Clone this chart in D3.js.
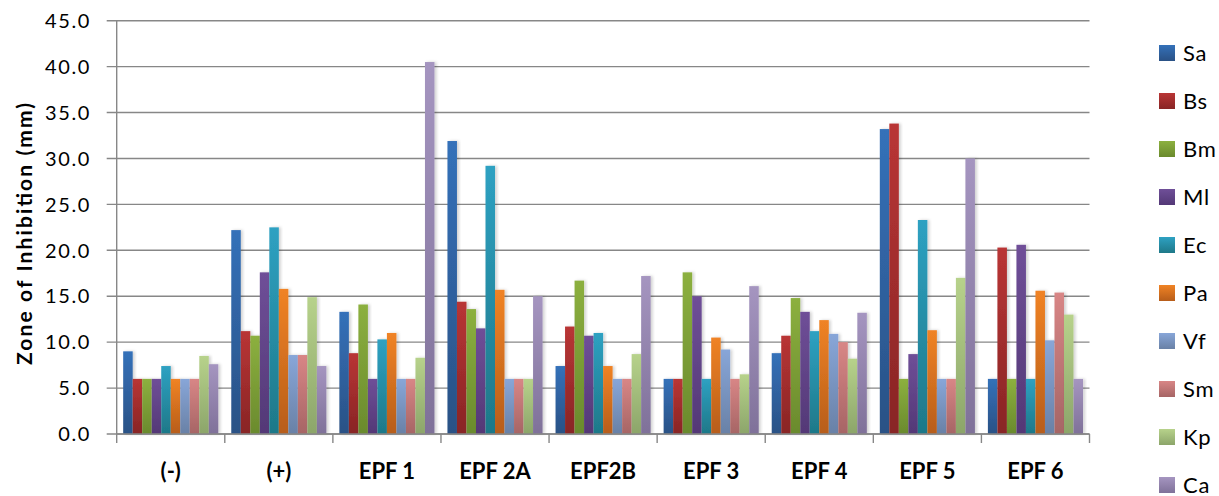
<!DOCTYPE html>
<html>
<head>
<meta charset="utf-8">
<script src="https://cdn.jsdelivr.net/npm/d3@7/dist/d3.min.js"></script>
<style>
  html, body { margin: 0; padding: 0; background: #fff; }
  svg { display: block; font-family: Lato, "Liberation Sans", sans-serif; }
</style>
</head>
<body>
<div id="chart"></div>
<script>
const categories = ["(-)", "(+)", "EPF 1", "EPF 2A", "EPF2B", "EPF 3", "EPF 4", "EPF 5", "EPF 6"];
const series = ["Sa", "Bs", "Bm", "Ml", "Ec", "Pa", "Vf", "Sm", "Kp", "Ca"];
// one array per series, values in category order
const Sa = [9.0, 22.2, 13.3, 31.9, 7.4, 6.0, 8.8, 33.2, 6.0];
const Bs = [6.0, 11.2, 8.8, 14.4, 11.7, 6.0, 10.7, 33.8, 20.3];
const Bm = [6.0, 10.7, 14.1, 13.6, 16.7, 17.6, 14.8, 6.0, 6.0];
const Ml = [6.0, 17.6, 6.0, 11.5, 10.7, 15.0, 13.3, 8.7, 20.6];
const Ec = [7.4, 22.5, 10.3, 29.2, 11.0, 6.0, 11.2, 23.3, 6.0];
const Pa = [6.0, 15.8, 11.0, 15.7, 7.4, 10.5, 12.4, 11.3, 15.6];
const Vf = [6.0, 8.6, 6.0, 6.0, 6.0, 9.2, 10.9, 6.0, 10.2];
const Sm = [6.0, 8.6, 6.0, 6.0, 6.0, 6.0, 10.0, 6.0, 15.4];
const Kp = [8.5, 14.9, 8.3, 6.0, 8.7, 6.5, 8.2, 17.0, 13.0];
const Ca = [7.6, 7.4, 40.5, 15.0, 17.2, 16.1, 13.2, 30.0, 6.0];
const yTicks = [0, 5, 10, 15, 20, 25, 30, 35, 40, 45];

const valuesBySeries = { Sa, Bs, Bm, Ml, Ec, Pa, Vf, Sm, Kp, Ca };
// [top, bottom] gradient colours
const colors = {
  Sa: ["#3471b9", "#2a5185"], Bs: ["#b93535", "#882525"], Bm: ["#8cb03f", "#6a8a2d"],
  Ml: ["#6f4f98", "#533876"], Ec: ["#2ea1c2", "#1e7888"], Pa: ["#f08325", "#b75d1a"],
  Vf: ["#88a6d8", "#6981a6"], Sm: ["#d88686", "#a66565"], Kp: ["#b7d28b", "#8ca56a"],
  Ca: ["#a595c0", "#7f7199"]
};

const width = 1219, height = 496;
const plotLeft = 116.7, plotRight = 1089.5, plotTop = 20.7, plotBottom = 434;

const svg = d3.select("#chart").append("svg").attr("width", width).attr("height", height);
const defs = svg.append("defs");
series.forEach(s => {
  const g = defs.append("linearGradient").attr("id", "g-" + s).attr("x1", 0).attr("y1", 0).attr("x2", 0).attr("y2", 1);
  g.append("stop").attr("offset", "0%").attr("stop-color", colors[s][0]);
  g.append("stop").attr("offset", "100%").attr("stop-color", colors[s][1]);
});
const shadow = defs.append("filter").attr("id", "shadow").attr("x", "-20%").attr("y", "-5%").attr("width", "160%").attr("height", "110%");
shadow.append("feDropShadow").attr("dx", 2).attr("dy", 0).attr("stdDeviation", 1.5).attr("flood-color", "#000").attr("flood-opacity", 0.18);

const x0 = d3.scaleBand().domain(categories).range([plotLeft, plotRight]).padding(0);
const bw = x0.bandwidth();
const x1 = d3.scaleBand().domain(series).range([bw * 0.06, bw * 0.94]).padding(0);
const y = d3.scaleLinear().domain([0, 45]).range([plotBottom, plotTop]);

// gridlines
svg.append("g").selectAll("line").data(yTicks).join("line")
  .attr("x1", plotLeft - 10).attr("x2", plotRight)
  .attr("y1", d => y(d)).attr("y2", d => y(d))
  .attr("stroke", "#878787").attr("stroke-width", 1.4);

// y axis line
svg.append("line").attr("x1", plotLeft).attr("x2", plotLeft).attr("y1", plotTop).attr("y2", plotBottom)
  .attr("stroke", "#878787").attr("stroke-width", 1.4);

// bars
const groups = svg.append("g").selectAll("g").data(categories).join("g")
  .attr("transform", d => `translate(${x0(d)},0)`);
groups.selectAll("rect")
  .data((c, i) => series.map(s => ({ s, v: valuesBySeries[s][i] })))
  .join("rect")
  .attr("x", d => x1(d.s)).attr("width", x1.bandwidth())
  .attr("y", d => y(d.v)).attr("height", d => y(0) - y(d.v))
  .attr("fill", d => `url(#g-${d.s})`)
  .attr("filter", "url(#shadow)");

// x axis line + category ticks
svg.append("line").attr("x1", plotLeft).attr("x2", plotRight).attr("y1", plotBottom).attr("y2", plotBottom)
  .attr("stroke", "#878787").attr("stroke-width", 1.4);
const bounds = categories.map(c => x0(c)).concat([plotRight]);
svg.append("g").selectAll("line").data(bounds).join("line")
  .attr("x1", d => d).attr("x2", d => d).attr("y1", plotBottom).attr("y2", plotBottom + 9)
  .attr("stroke", "#878787").attr("stroke-width", 1.4);

// y tick labels
svg.append("g").selectAll("text").data(yTicks).join("text")
  .attr("x", 91).attr("y", d => y(d)).attr("dy", "0.36em")
  .attr("text-anchor", "end").attr("font-size", "20px").attr("letter-spacing", "1.6px").attr("fill", "#000")
  .text(d => d.toFixed(1));

// category labels
svg.append("g").selectAll("text").data(categories).join("text")
  .attr("x", d => x0(d) + bw / 2).attr("y", 479)
  .attr("text-anchor", "middle").attr("font-size", "22px").attr("font-weight", "bold")
  .text(d => d);

// y title
svg.append("text").attr("transform", `translate(32,${234}) rotate(-90)`)
  .attr("text-anchor", "middle").attr("font-size", "21px").attr("font-weight", "bold")
  .attr("textLength", 262).attr("lengthAdjust", "spacing")
  .text("Zone of Inhibition  (mm)");

// legend
const legend = svg.append("g").selectAll("g").data(series).join("g")
  .attr("transform", (d, i) => `translate(1159,${45 + i * 48})`);
legend.append("rect").attr("width", 16).attr("height", 16).attr("fill", d => `url(#g-${d})`);
legend.append("text").attr("x", 24).attr("y", 8).attr("dy", "0.36em")
  .attr("font-size", "22px").attr("letter-spacing", "0.8px").text(d => d);
</script>
</body>
</html>
